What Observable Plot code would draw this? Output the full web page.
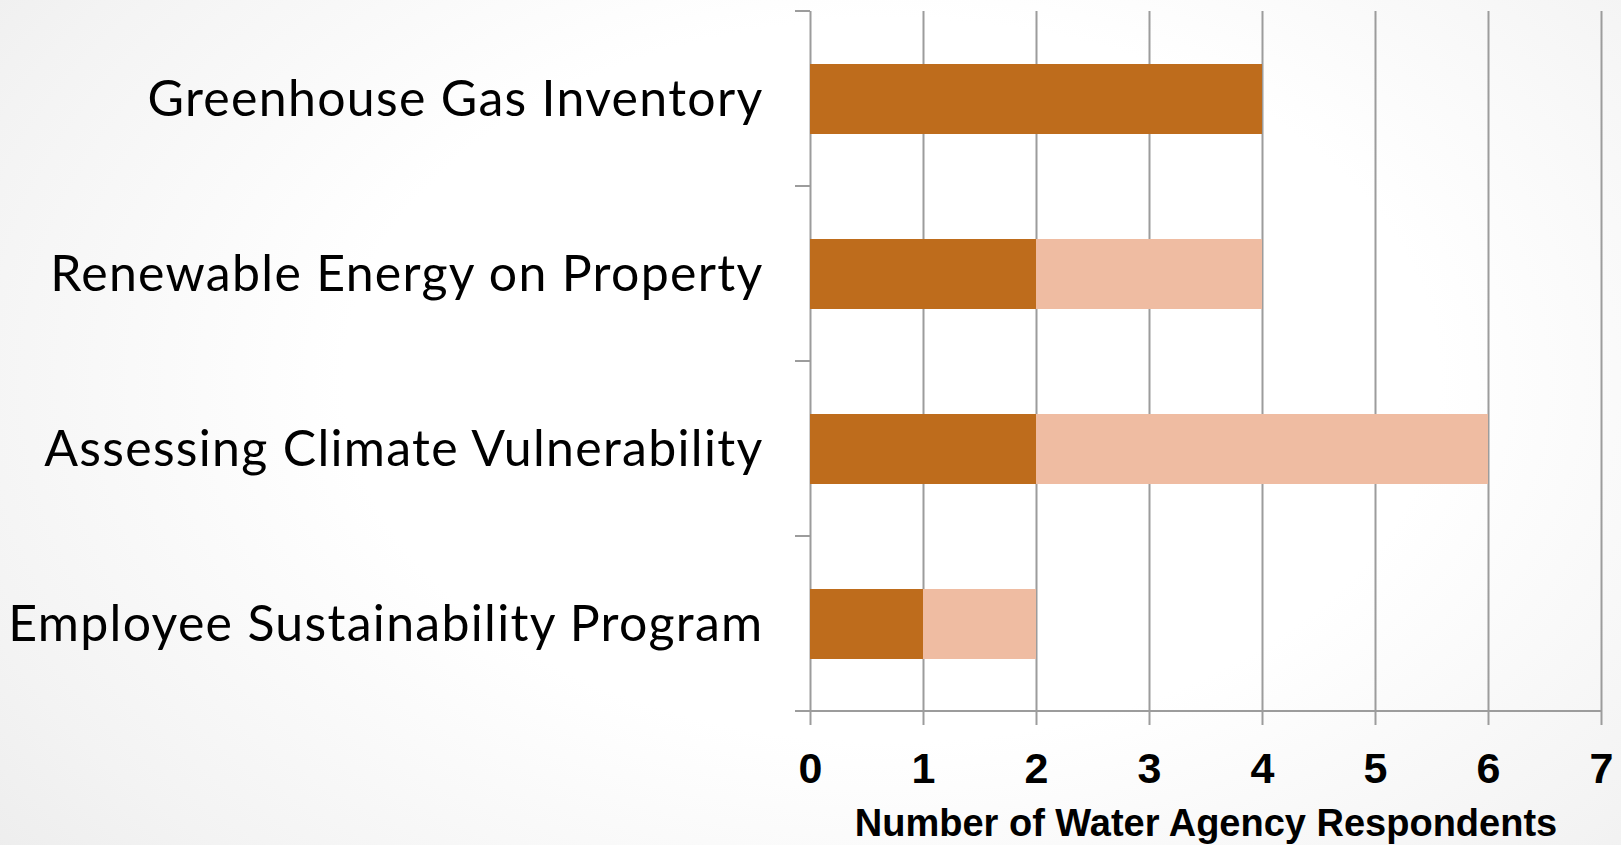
<!DOCTYPE html>
<html>
<head>
<meta charset="utf-8">
<script src="https://cdn.jsdelivr.net/npm/d3@7"></script>
<script src="https://cdn.jsdelivr.net/npm/@observablehq/plot@0.6"></script>
<style>
  html, body { margin: 0; padding: 0; }
  body {
    width: 1621px; height: 845px; overflow: hidden;
    background: radial-gradient(ellipse 75% 95% at 55% 45%, #ffffff 0%, #ffffff 45%, #f3f3f3 80%, #ebebeb 100%);
  }
  #chart svg { display: block; background: transparent; }
  #chart svg g[aria-label="y-axis tick label"] { letter-spacing: 1.3px; }
</style>
</head>
<body>
<div id="chart"></div>
<script>
const categories = [
  "Greenhouse Gas Inventory",
  "Renewable Energy on Property",
  "Assessing Climate Vulnerability",
  "Employee Sustainability Program"
];
const seriesNames = ["Implemented", "Planned"];
const implemented = [4, 2, 2, 1];
const planned = [0, 2, 4, 1];
const xTicks = [0, 1, 2, 3, 4, 5, 6, 7];
const seriesColors = ["#BE6C1C", "#EFBCA2"];
const xLabel = "Number of Water Agency Respondents";

const data = categories.flatMap((c, i) => [
  {category: c, series: seriesNames[0], value: implemented[i]},
  {category: c, series: seriesNames[1], value: planned[i]}
]);

const axisColor = "#9c9c9c";
const boldFont = "'Liberation Sans', Arimo, sans-serif";

function axisFrame(index, scales, values, dims) {
  const g = d3.create("svg:g");
  const x0 = scales.x(0);
  const x1 = scales.x(xTicks[xTicks.length - 1]);
  const top = dims.marginTop;
  const bottom = dims.height - dims.marginBottom;
  const n = categories.length;
  g.append("line").attr("x1", x0 - 15).attr("x2", x1).attr("y1", bottom).attr("y2", bottom)
    .attr("stroke", axisColor).attr("stroke-width", 2);
  for (let k = 0; k < n; ++k) {
    const yy = top + k * (bottom - top) / n;
    g.append("line").attr("x1", x0 - 15).attr("x2", x0).attr("y1", yy).attr("y2", yy)
      .attr("stroke", axisColor).attr("stroke-width", 2);
  }
  return g.node();
}

const chart = Plot.plot({
  width: 1621,
  height: 845,
  marginLeft: 810,
  marginRight: 20,
  marginTop: 11,
  marginBottom: 134,
  style: {background: "transparent", overflow: "visible"},
  x: {domain: [0, 7]},
  y: {domain: categories, paddingInner: 0.6, paddingOuter: 0.3},
  color: {domain: seriesNames, range: seriesColors},
  marks: [
    Plot.gridX(xTicks, {stroke: axisColor, strokeOpacity: 1, strokeWidth: 2}),
    Plot.barX(data, {x: "value", y: "category", fill: "series", order: seriesNames}),
    axisFrame,
    Plot.axisX(xTicks, {
      tickSize: 14,
      stroke: axisColor,
      strokeWidth: 2,
      tickPadding: 27,
      fontSize: 43,
      fontWeight: "bold",
      fontFamily: boldFont,
      fill: "#000",
      label: null
    }),
    Plot.text([xLabel], {
      text: d => d,
      frameAnchor: "bottom",
      lineAnchor: "middle",
      dy: 112,
      fontSize: 38,
      fontWeight: "bold",
      fontFamily: boldFont,
      fill: "#000"
    }),
    Plot.axisY({
      tickSize: 0,
      tickPadding: 47,
      fontSize: 50,
      fontFamily: "Lato, 'Noto Sans', sans-serif",
      fill: "#000",
      label: null
    })
  ]
});

document.getElementById("chart").appendChild(chart);
</script>
</body>
</html>
